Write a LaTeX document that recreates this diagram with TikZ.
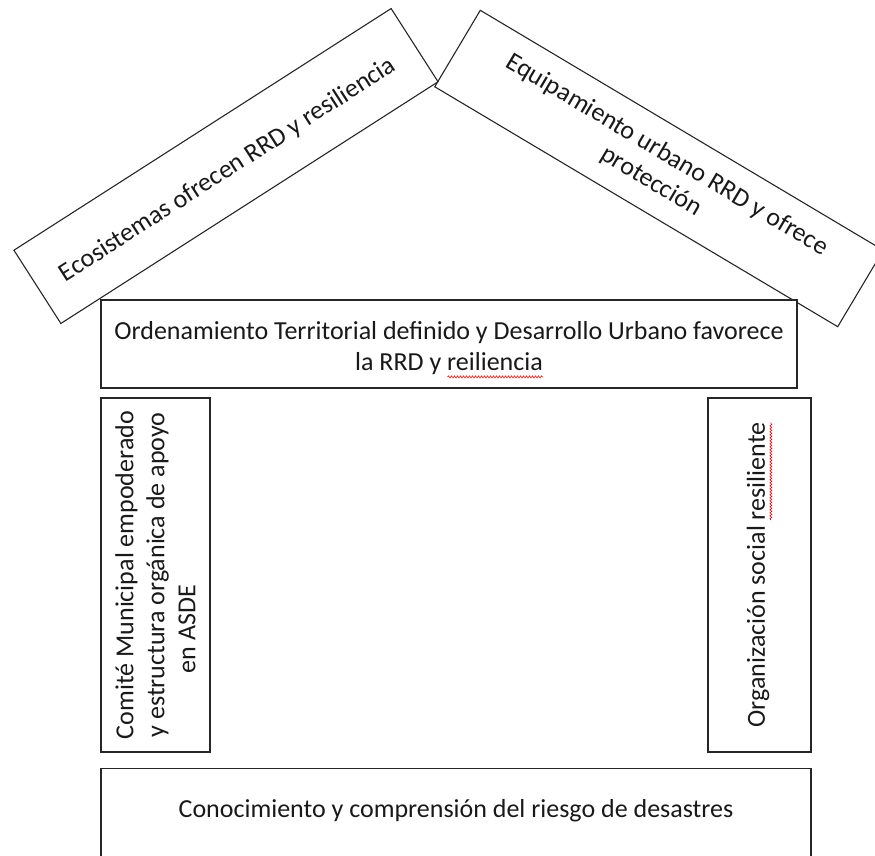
\documentclass[tikz,border=0pt]{standalone}
\usepackage{fontspec}
\setmainfont{Carlito}
\usetikzlibrary{decorations.pathmorphing}
\newsavebox\wavebox
\newcommand\redwave[1]{\sbox\wavebox{#1}\rlap{\raisebox{-6pt}{\tikz[x=1pt,y=1pt,baseline=0pt]\draw[red, line width=0.6pt, decorate, decoration={snake, amplitude=1pt, segment length=3pt}] (0,0) -- (\the\wd\wavebox,0);}}\usebox\wavebox}
\begin{document}
\begin{tikzpicture}[x=1pt,y=-1pt,
  box/.style={draw=black!85, line width=1.1pt, inner sep=0pt, align=center, text=black!90,
    font=\fontsize{26}{31}\selectfont},
  plain/.style={inner sep=0pt, align=center, text=black!90, font=\fontsize{26}{31}\selectfont}]
\useasboundingbox (0,0) rectangle (875,855);
\node[box, minimum width=448, minimum height=87, rotate=32.65] (eco) at (226,166) {};
\node[plain, rotate=32.65] (ecot) at (228,170) {Ecosistemas ofrecen RRD y resiliencia};
\node[box, minimum width=469, minimum height=89, rotate=-30.77] (equip) at (659,168.5)
  {Equipamiento urbano RRD y ofrece\\protección};
\node[box, fill=white, minimum width=696, minimum height=88] (orden) at (449,344) {};
\node[plain] (ordent) at (449,350)
  {Ordenamiento Territorial definido y Desarrollo Urbano favorece\\la RRD y \redwave{reiliencia}};
\node[box, minimum width=354, minimum height=109, rotate=90] (comite) at (155.5,575)
  {Comité Municipal empoderado\\y estructura orgánica de apoyo\\en ASDE\hspace*{108pt}};
\node[box, minimum width=354, minimum height=103, rotate=90] (org) at (759.5,575)
  {Organización social \redwave{resiliente}};
\node[box, minimum width=710, minimum height=120, anchor=north] (conoc) at (456,768) {};
\node[plain] (conoct) at (456,811) {Conocimiento y comprensión del riesgo de desastres};
\end{tikzpicture}
\end{document}
